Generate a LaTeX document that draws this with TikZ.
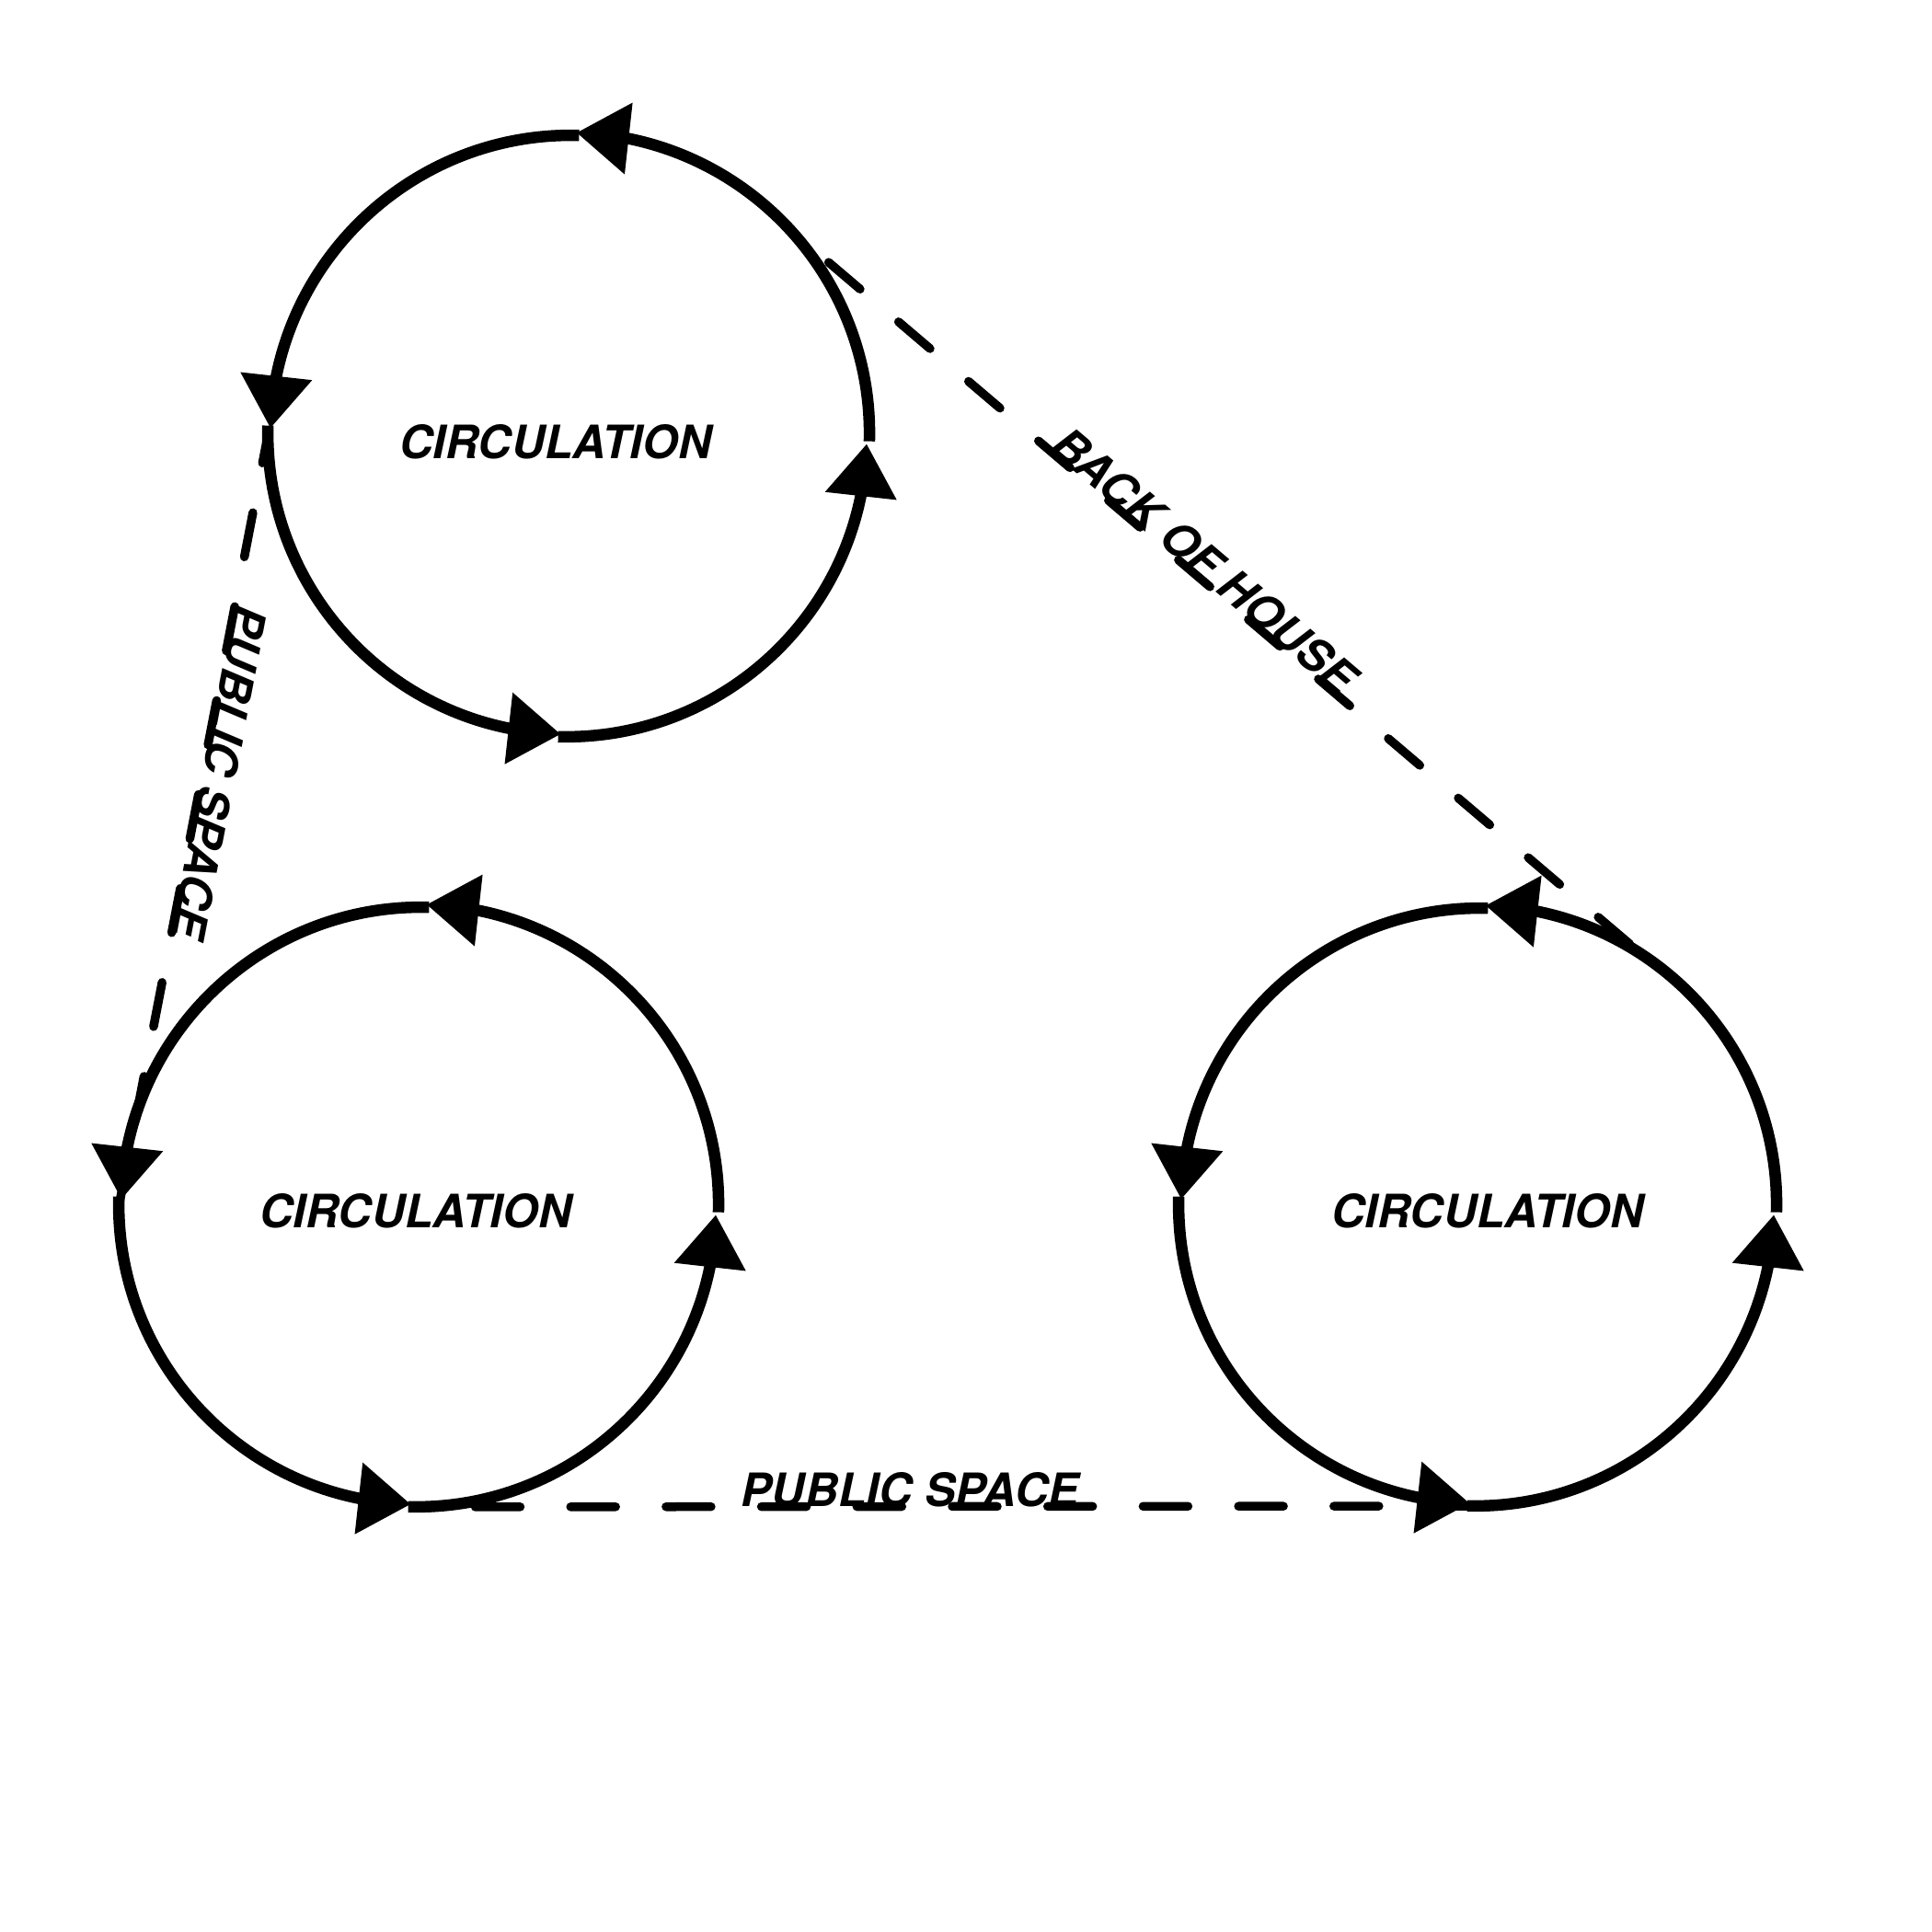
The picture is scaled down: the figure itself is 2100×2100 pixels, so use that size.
\documentclass[tikz,border=0pt]{standalone}
\usepackage{fontspec}
\setmainfont{TeX Gyre Heros}
\usetikzlibrary{arrows.meta,bending,calc}
\begin{document}
\begin{tikzpicture}[x=1pt,y=1pt,
  ring/.style={circle, minimum size=#1, inner sep=0pt, outer sep=0pt},
  circ/.style={line width=12.5pt, -{Triangle[length=57pt,width=75pt,flex]}},
  lab/.style={font=\fontsize{50}{60}\selectfont\bfseries\itshape, inner sep=0pt},
  dashv/.style={line width=9.5pt, line cap=round, dash pattern=on 49pt off 55pt, dash phase=19.2pt},
  dashh/.style={line width=9.5pt, line cap=round, dash pattern=on 49pt off 54.7pt, dash phase=42.2pt},
  dashd/.style={line width=9.5pt, line cap=round, dash pattern=on 45pt off 54.85pt}]
\fill[white] (0,0) rectangle (2100,2100);
\useasboundingbox (0,0) rectangle (2100,2100);
% circles (invisible nodes)
\node[ring=654pt] (c1) at (618,1626) {};
\node[ring=652pt] (c2) at (455,788) {};
\node[ring=650pt] (c3) at (1606,788) {};
% circulation arcs
\foreach \c/\r in {c1/327,c2/326,c3/325}{
  \draw[circ] (\c.-1.5) arc[start angle=-1.5, end angle=88.5, radius=\r pt];
  \draw[circ] (\c.88.5) arc[start angle=88.5, end angle=178.5, radius=\r pt];
  \draw[circ] (\c.178.5) arc[start angle=178.5, end angle=268.5, radius=\r pt];
  \draw[circ] (\c.268.5) arc[start angle=268.5, end angle=358.5, radius=\r pt];
}
% labels
\node[lab, anchor=base] (l1) at (604,1601) {CIRCULATION};
\node[lab, anchor=base] (l2) at (452,765) {CIRCULATION};
\node[lab, anchor=base] (l3) at (1617,765) {CIRCULATION};
% connectors
\coordinate (bA) at ($(c1.49.7)!89.4pt!(c3.49.7)$);
\coordinate (bB) at ($(c1.49.7)!1232.7pt!(c3.49.7)$);
\draw[dashv] (c1.west) -- node[lab, pos=0.432, rotate=-100.94, anchor=base] (t1) {PUBLIC SPACE} (c2.west);
\draw[dashh] (c2.south) -- node[lab, pos=0.464, anchor=base] (t2) {PUBLIC SPACE} (c3.south);
\draw[dashd] (bA) -- node[lab, pos=0.4562, sloped, anchor=base] (t3) {BACK OF HOUSE} (bB);
\end{tikzpicture}
\end{document}
